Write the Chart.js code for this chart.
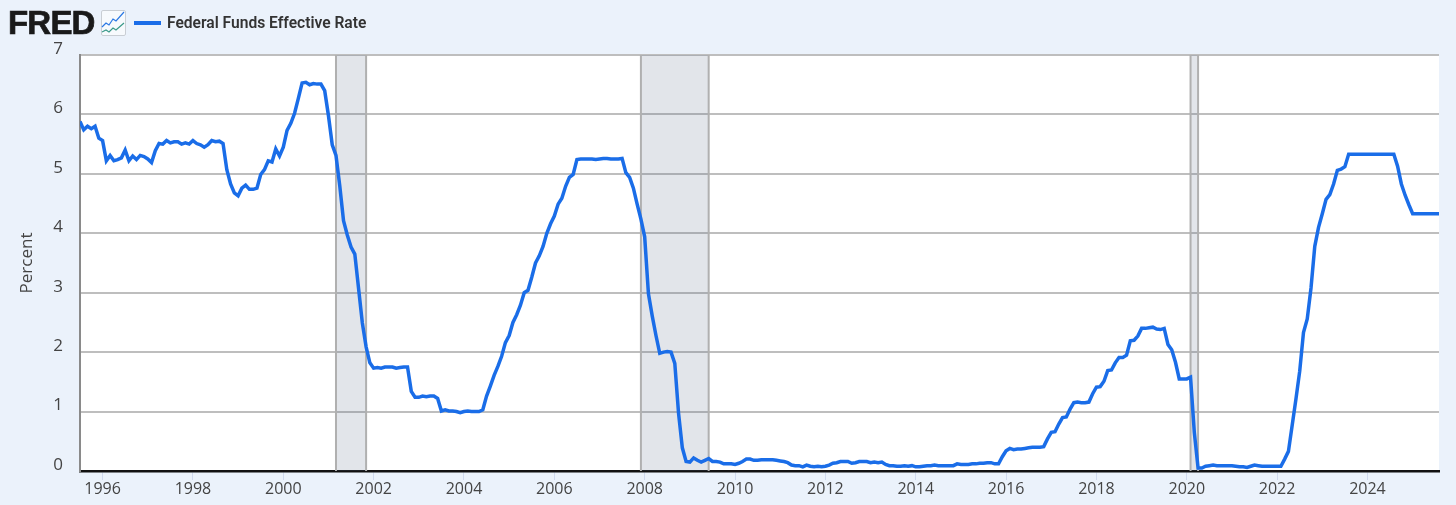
<!DOCTYPE html>
<html>
<head>
<meta charset="utf-8">
<title>Federal Funds Effective Rate</title>
<script src="https://cdn.jsdelivr.net/npm/chart.js@4"></script>
<style>
    html, body { margin: 0; padding: 0; background: #ebf2fb; }
    #wrap { position: relative; width: 1456px; height: 505px; overflow: hidden; }
    #chart { position: absolute; left: 0; top: 0; }
    #logo { position: absolute; left: 8px; top: 3px; font: 900 33px/40px "Liberation Sans", sans-serif; letter-spacing: -0.8px; color: #1a1a1a; -webkit-text-stroke: 0.7px #1a1a1a; }
    #icon { position: absolute; left: 101px; top: 10px; }
    #key { position: absolute; left: 134px; top: 21px; width: 27px; height: 4px; background: #1a6de8; }
    #name { position: absolute; left: 167px; top: 14px; font: 600 15.6px/18px Roboto, sans-serif; color: #333; }
</style>
</head>
<body>
<div id="wrap">
    <canvas id="chart" width="1456" height="505"></canvas>
    <div id="logo">FRED</div>
    <svg id="icon" width="25" height="26" viewBox="0 0 25 26">
        <rect x="0.5" y="0.5" width="24" height="25" rx="1.5" fill="#f7fafd" stroke="#c9ced4"/>
        <polyline points="1,17 5,13 8,15 12,9 15,11 23,2" fill="none" stroke="#2a78e4" stroke-width="1.2"/>
        <polyline points="1,22 5,20 8,22 12,18 15,20 23,13" fill="none" stroke="#3a9a8a" stroke-width="1.2"/>
    </svg>
    <div id="key"></div>
    <div id="name">Federal Funds Effective Rate</div>
</div>
<script>
const startYear = 1995;
const startMonth = 6; // July, months count from 0

// monthly values, percent, Jul 1995 to Aug 2025
const rates = [
    5.88, 5.74, 5.80, 5.76, 5.80, 5.60,
    5.56, 5.22, 5.31, 5.22, 5.24, 5.27, 5.40, 5.22, 5.30, 5.24, 5.31, 5.29,
    5.25, 5.19, 5.39, 5.51, 5.50, 5.56, 5.52, 5.54, 5.54, 5.50, 5.52, 5.50,
    5.56, 5.51, 5.49, 5.45, 5.49, 5.56, 5.54, 5.55, 5.51, 5.07, 4.83, 4.68,
    4.63, 4.76, 4.81, 4.74, 4.74, 4.76, 4.99, 5.07, 5.22, 5.20, 5.42, 5.30,
    5.45, 5.73, 5.85, 6.02, 6.27, 6.53, 6.54, 6.50, 6.52, 6.51, 6.51, 6.40,
    5.98, 5.49, 5.31, 4.80, 4.21, 3.97, 3.77, 3.65, 3.07, 2.49, 2.09, 1.82,
    1.73, 1.74, 1.73, 1.75, 1.75, 1.75, 1.73, 1.74, 1.75, 1.75, 1.34, 1.24,
    1.24, 1.26, 1.25, 1.26, 1.26, 1.22, 1.01, 1.03, 1.01, 1.01, 1.00, 0.98,
    1.00, 1.01, 1.00, 1.00, 1.00, 1.03, 1.26, 1.43, 1.61, 1.76, 1.93, 2.16,
    2.28, 2.50, 2.63, 2.79, 3.00, 3.04, 3.26, 3.50, 3.62, 3.78, 4.00, 4.16,
    4.29, 4.49, 4.59, 4.79, 4.94, 4.99, 5.24, 5.25, 5.25, 5.25, 5.25, 5.24,
    5.25, 5.26, 5.26, 5.25, 5.25, 5.25, 5.26, 5.02, 4.94, 4.76, 4.49, 4.24,
    3.94, 2.98, 2.61, 2.28, 1.98, 2.00, 2.01, 2.00, 1.81, 0.97, 0.39, 0.16,
    0.15, 0.22, 0.18, 0.15, 0.18, 0.21, 0.16, 0.16, 0.15, 0.12, 0.12, 0.12,
    0.11, 0.13, 0.16, 0.20, 0.20, 0.18, 0.18, 0.19, 0.19, 0.19, 0.19, 0.18,
    0.17, 0.16, 0.14, 0.10, 0.09, 0.09, 0.07, 0.10, 0.08, 0.07, 0.08, 0.07,
    0.08, 0.10, 0.13, 0.14, 0.16, 0.16, 0.16, 0.13, 0.14, 0.16, 0.16, 0.16,
    0.14, 0.15, 0.14, 0.15, 0.11, 0.09, 0.09, 0.08, 0.08, 0.09, 0.08, 0.09,
    0.07, 0.07, 0.08, 0.09, 0.09, 0.10, 0.09, 0.09, 0.09, 0.09, 0.09, 0.12,
    0.11, 0.11, 0.11, 0.12, 0.12, 0.13, 0.13, 0.14, 0.14, 0.12, 0.12, 0.24,
    0.34, 0.38, 0.36, 0.37, 0.37, 0.38, 0.39, 0.40, 0.40, 0.40, 0.41, 0.54,
    0.65, 0.66, 0.79, 0.90, 0.91, 1.04, 1.15, 1.16, 1.15, 1.15, 1.16, 1.30,
    1.41, 1.42, 1.51, 1.69, 1.70, 1.82, 1.91, 1.91, 1.95, 2.19, 2.20, 2.27,
    2.40, 2.40, 2.41, 2.42, 2.39, 2.38, 2.40, 2.13, 2.04, 1.83, 1.55, 1.55,
    1.55, 1.58, 0.65, 0.05, 0.05, 0.08, 0.09, 0.10, 0.09, 0.09, 0.09, 0.09,
    0.09, 0.08, 0.07, 0.07, 0.06, 0.08, 0.10, 0.09, 0.08, 0.08, 0.08, 0.08,
    0.08, 0.08, 0.20, 0.33, 0.77, 1.21, 1.68, 2.33, 2.56, 3.08, 3.78, 4.10,
    4.33, 4.57, 4.65, 4.83, 5.06, 5.08, 5.12, 5.33, 5.33, 5.33, 5.33, 5.33,
    5.33, 5.33, 5.33, 5.33, 5.33, 5.33, 5.33, 5.33, 5.13, 4.83, 4.64, 4.48,
    4.33, 4.33, 4.33, 4.33, 4.33, 4.33, 4.33, 4.33
];

// recessions as [start, end] in decimal years
const recessions = [
    [2001 + 2 / 12, 2001 + 10 / 12],
    [2007 + 11 / 12, 2009 + 5 / 12],
    [2020 + 1 / 12, 2020 + 3 / 12]
];

const xMin = startYear + startMonth / 12;
const xMax = xMin + (rates.length - 1) / 12;
const points = rates.map((value, i) => ({ x: xMin + i / 12, y: value }));

const recessionBands = {
    id: 'recessionBands',
    beforeDatasetsDraw(chart) {
        const { ctx, chartArea, scales } = chart;
        ctx.save();
        recessions.forEach(([from, to]) => {
            const left = scales.x.getPixelForValue(from);
            const right = scales.x.getPixelForValue(to);
            ctx.fillStyle = 'rgba(85, 100, 130, 0.17)';
            ctx.fillRect(left, chartArea.top, right - left, chartArea.height);
            ctx.strokeStyle = '#b0b0b0';
            ctx.lineWidth = 2;
            ctx.beginPath();
            ctx.moveTo(left, chartArea.top);
            ctx.lineTo(left, chartArea.bottom);
            ctx.moveTo(right, chartArea.top);
            ctx.lineTo(right, chartArea.bottom);
            ctx.stroke();
        });
        ctx.restore();
    }
};

const plotBackground = {
    id: 'plotBackground',
    beforeDraw(chart) {
        const { ctx, chartArea } = chart;
        ctx.save();
        ctx.fillStyle = '#ffffff';
        ctx.fillRect(chartArea.left, chartArea.top, chartArea.width, chartArea.height);
        ctx.restore();
    }
};

new Chart(document.getElementById('chart'), {
    type: 'line',
    data: {
        datasets: [{
            label: 'Federal Funds Effective Rate',
            data: points,
            borderColor: '#1a6de8',
            borderWidth: 3.5,
            pointRadius: 0,
            tension: 0,
            borderJoinStyle: 'miter'
        }]
    },
    options: {
        responsive: false,
        animation: false,
        parsing: false,
        layout: { padding: { top: 55, right: 17, left: 0, bottom: 0 } },
        plugins: { legend: { display: false }, tooltip: { enabled: false } },
        scales: {
            x: {
                type: 'linear',
                min: xMin,
                max: xMax,
                afterFit(scale) { scale.height = 34; },
                border: { color: '#111111', width: 2.5 },
                grid: { drawOnChartArea: false, drawTicks: true, tickLength: 9, tickColor: '#cfd9ee', lineWidth: 1 },
                ticks: {
                    stepSize: 2,
                    includeBounds: false,
                    autoSkip: false,
                    maxRotation: 0,
                    padding: 0,
                    color: '#444444',
                    font: { family: '"Open Sans"', size: 16 },
                    callback: value => String(value)
                }
            },
            y: {
                min: 0,
                max: 7,
                afterFit(scale) { scale.width = 80; },
                title: {
                    display: true,
                    text: 'Percent',
                    color: '#444444',
                    font: { family: '"Open Sans"', size: 17 },
                    padding: { top: 17, bottom: 0 }
                },
                border: { color: '#8a8a8a', width: 2 },
                grid: { color: '#bebebe', lineWidth: 2, drawTicks: false },
                ticks: {
                    stepSize: 1,
                    padding: 17,
                    color: '#444444',
                    font: { family: '"Open Sans"', size: 17, lineHeight: '12px' },
                    // second empty line lifts the number above its gridline
                    callback: value => [String(value), '']
                }
            }
        }
    },
    plugins: [plotBackground, recessionBands]
});
</script>
</body>
</html>
